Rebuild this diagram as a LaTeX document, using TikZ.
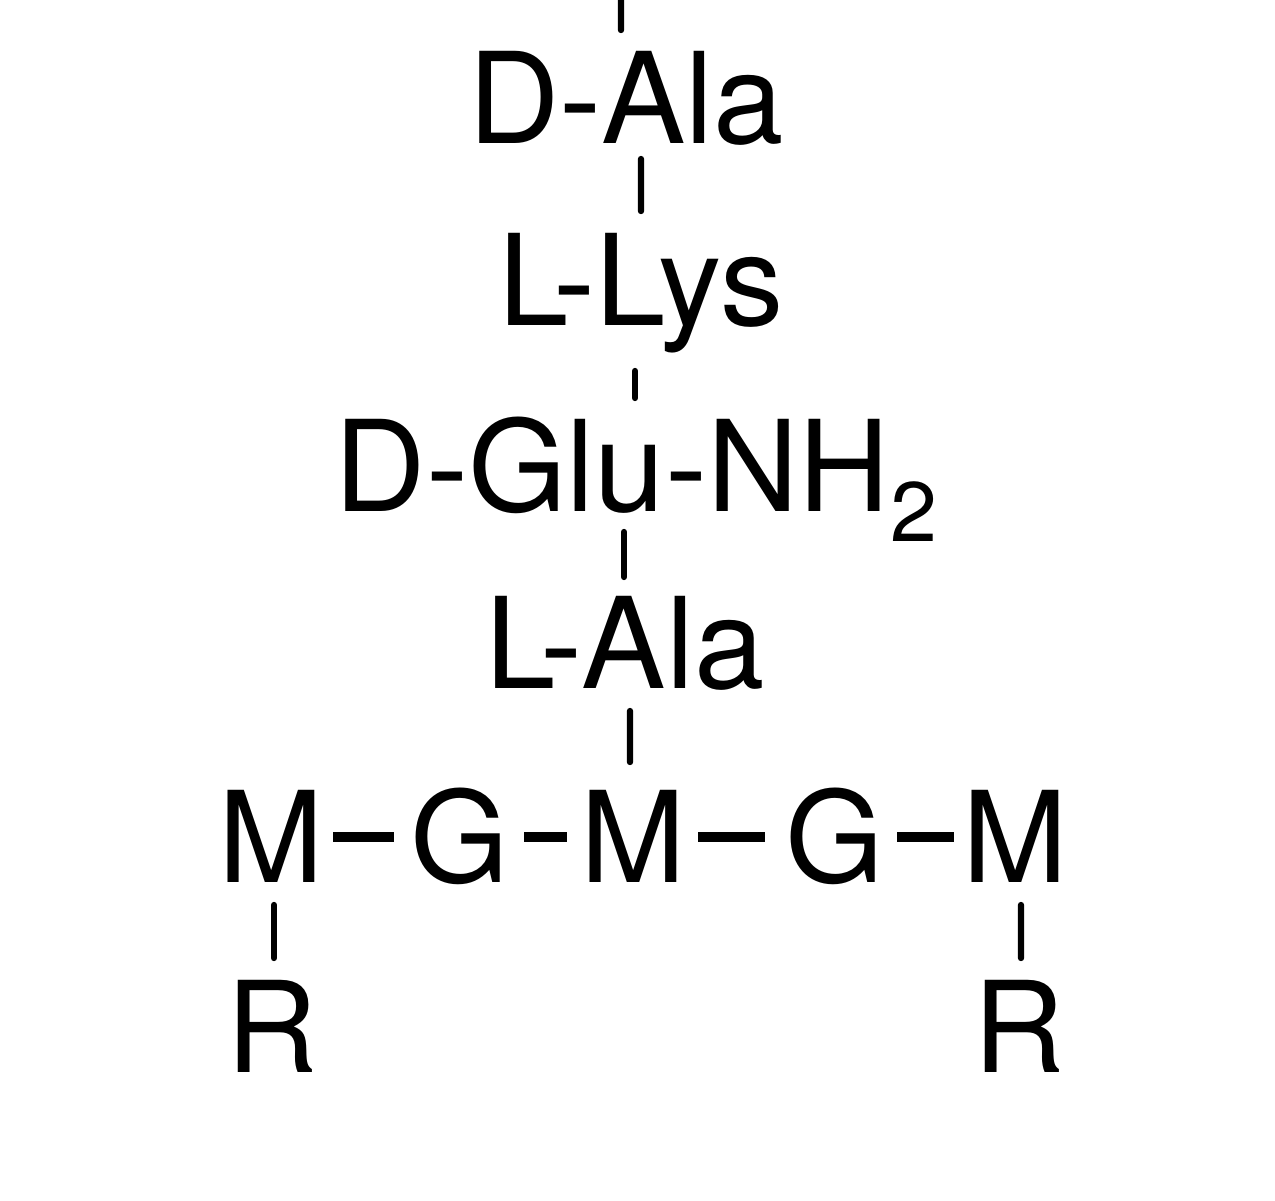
\documentclass[tikz,border=0pt]{standalone}
\usepackage{fontspec}
\setmainfont{TeX Gyre Heros}
\begin{document}
\begin{tikzpicture}[x=1cm,y=1cm,
  lbl/.style={anchor=base,inner sep=0pt,font=\fontsize{36}{40}\selectfont},
  tick/.style={line width=1.8pt,line cap=round},
  bond/.style={line width=3pt}]
\useasboundingbox (0,0) rectangle (12.75,-12);
\node[lbl] (dala) at (6.26,-1.43) {D-Ala};
\node[lbl] (llys) at (6.41,-3.25) {L-Lys};
\node[lbl] (dglu) at (6.36,-5.11) {D-Glu-NH\raisebox{-0.3cm}{\fontsize{24}{24}\selectfont 2}};
\node[lbl] (lala) at (6.25,-6.88) {L-Ala};
\node[lbl] (m1) at (2.71,-8.82) {M};
\node[lbl] (g1) at (4.60,-8.82) {G};
\node[lbl] (m2) at (6.33,-8.82) {M};
\node[lbl] (g2) at (8.35,-8.82) {G};
\node[lbl] (m3) at (10.15,-8.82) {M};
\node[lbl] (r1) at (2.72,-10.72) {R};
\node[lbl] (r2) at (10.19,-10.72) {R};
\coordinate (top) at (6.21,0.05);
\draw[tick] (top) -- ([shift={(-0.05,1.13)}]dala.base);
\draw[tick] ([shift={(0.15,-0.16)}]dala.base) -- ([shift={(0,1.14)}]llys.base);
\draw[tick] ([shift={(-0.06,-0.46)}]llys.base) -- ([shift={(-0.01,1.13)}]dglu.base);
\draw[tick] ([shift={(-0.12,-0.21)}]dglu.base) -- ([shift={(-0.01,1.11)}]lala.base);
\draw[tick] ([shift={(0.05,-0.23)}]lala.base) -- ([shift={(-0.03,1.20)}]m2.base);
\draw[tick] ([shift={(0.03,-0.23)}]m1.base) -- ([shift={(0.02,1.14)}]r1.base);
\draw[tick] ([shift={(0.06,-0.23)}]m3.base) -- ([shift={(0.02,1.14)}]r2.base);
\draw[bond] ([shift={(0.62,0.45)}]m1.base) -- ([shift={(-0.66,0.45)}]g1.base);
\draw[bond] ([shift={(0.64,0.45)}]g1.base) -- ([shift={(-0.66,0.45)}]m2.base);
\draw[bond] ([shift={(0.65,0.45)}]m2.base) -- ([shift={(-0.70,0.45)}]g2.base);
\draw[bond] ([shift={(0.62,0.45)}]g2.base) -- ([shift={(-0.61,0.45)}]m3.base);
\end{tikzpicture}
\end{document}
